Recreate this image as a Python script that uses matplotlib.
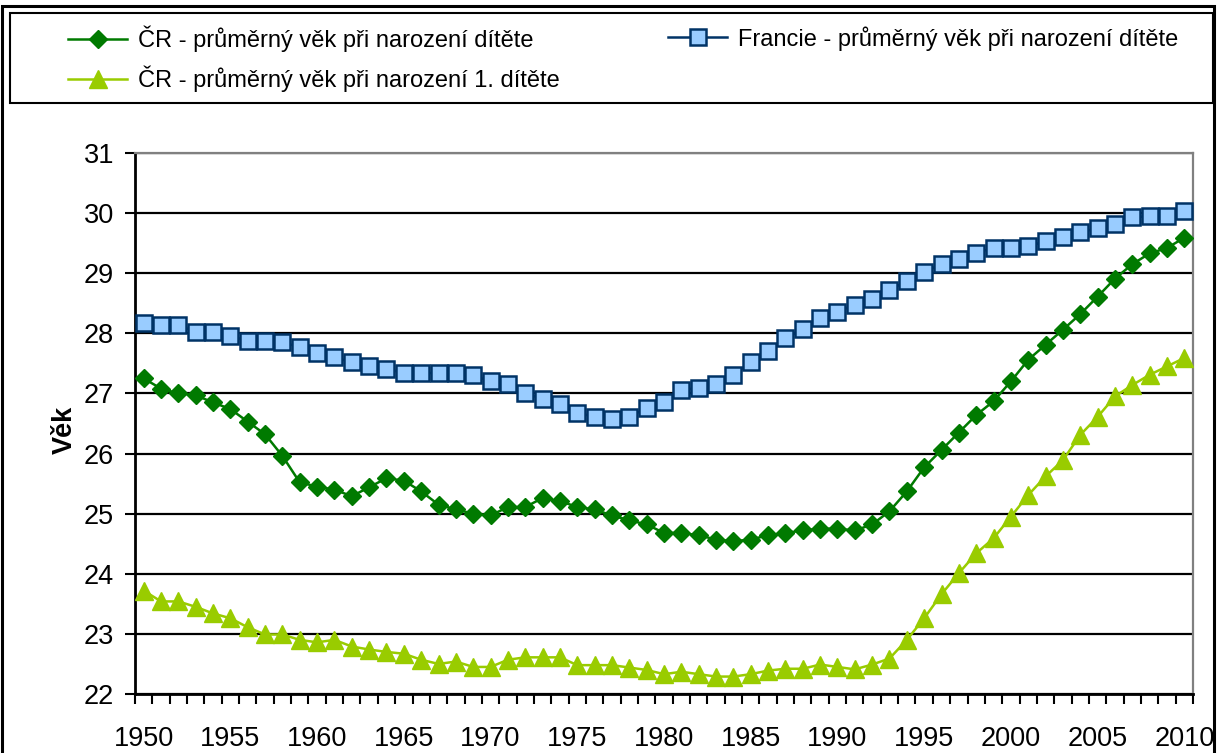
import matplotlib
matplotlib.use("Agg")
import matplotlib.pyplot as plt
from matplotlib.lines import Line2D
from matplotlib.patches import Rectangle
import numpy as np

plt.rcParams['font.family'] = ['Liberation Sans', 'DejaVu Sans']

years = list(range(1950, 2011))

cr_all = [27.25, 27.08, 27.00, 26.97, 26.85, 26.74, 26.53, 26.32, 25.96, 25.52,
          25.45, 25.40, 25.29, 25.44, 25.59, 25.55, 25.37, 25.15, 25.07, 25.00,
          24.97, 25.11, 25.11, 25.26, 25.21, 25.11, 25.07, 24.97, 24.89, 24.82,
          24.68, 24.68, 24.64, 24.57, 24.54, 24.57, 24.64, 24.68, 24.72, 24.75,
          24.75, 24.72, 24.82, 25.04, 25.37, 25.77, 26.06, 26.35, 26.64, 26.87,
          27.20, 27.56, 27.81, 28.06, 28.32, 28.61, 28.91, 29.15, 29.33, 29.42,
          29.59]

france = [28.18, 28.14, 28.14, 28.02, 28.02, 27.95, 27.88, 27.88, 27.85, 27.77,
          27.67, 27.60, 27.52, 27.45, 27.41, 27.34, 27.34, 27.34, 27.34, 27.30,
          27.20, 27.15, 27.01, 26.90, 26.83, 26.68, 26.61, 26.58, 26.61, 26.76,
          26.86, 27.06, 27.09, 27.15, 27.31, 27.52, 27.71, 27.92, 28.07, 28.25,
          28.36, 28.47, 28.57, 28.72, 28.87, 29.02, 29.15, 29.23, 29.34, 29.42,
          29.42, 29.45, 29.53, 29.60, 29.68, 29.75, 29.82, 29.93, 29.95, 29.95,
          30.04]

cr_first = [23.72, 23.54, 23.54, 23.45, 23.34, 23.26, 23.11, 22.99, 22.99, 22.90,
            22.86, 22.90, 22.79, 22.74, 22.70, 22.67, 22.57, 22.50, 22.54, 22.45,
            22.45, 22.57, 22.61, 22.61, 22.61, 22.48, 22.48, 22.48, 22.44, 22.40,
            22.33, 22.37, 22.33, 22.29, 22.29, 22.33, 22.39, 22.42, 22.42, 22.49,
            22.45, 22.41, 22.49, 22.59, 22.90, 23.26, 23.66, 24.01, 24.34, 24.59,
            24.95, 25.31, 25.62, 25.89, 26.31, 26.61, 26.95, 27.14, 27.31, 27.45,
            27.59]

label_cr_all = "ČR - průměrný věk při narození dítěte"
label_fr = "Francie - průměrný věk při narození dítěte"
label_cr_first = "ČR - průměrný věk při narození 1. dítěte"
y_label = "Věk"
x_ticks = list(range(1950, 2011, 5))
y_ticks = list(range(22, 32))

W, H = 1217, 753
fig = plt.figure(figsize=(W / 100, H / 100), dpi=100)
fig.patch.set_facecolor('white')

# outer chart border
fig.add_artist(Rectangle((2 / W, -0.05), (1214 - 2) / W, 1.05 - 6 / H,
                         transform=fig.transFigure, fill=False,
                         edgecolor='black', linewidth=2.2))

ax = fig.add_axes([135 / W, 1 - 694 / H, (1193 - 135) / W, (694 - 153) / H])

c_green = '#007A00'
c_lime = '#99CC00'
c_blue_edge = '#003366'
c_blue_fill = '#99CCFF'

ms_d, ms_s, ms_t = 9.5, 11.5, 12.5

ax.plot(years, cr_first, color=c_lime, linewidth=1.8, marker='^',
        markersize=ms_t, markerfacecolor=c_lime, markeredgecolor=c_lime, zorder=3)
ax.plot(years, cr_all, color=c_green, linewidth=1.8, marker='D',
        markersize=ms_d, markerfacecolor=c_green, markeredgecolor=c_green, zorder=4)
ax.plot(years, france, color=c_blue_edge, linewidth=1.8, marker='s',
        markersize=ms_s, markerfacecolor=c_blue_fill, markeredgecolor=c_blue_edge,
        markeredgewidth=1.8, zorder=5)

ax.set_xlim(1949.5, 2010.5)
ax.set_ylim(22, 31)

ax.set_yticks(y_ticks)
ax.set_yticklabels([str(v) for v in y_ticks], fontsize=19.5)
ax.tick_params(axis='y', direction='out', length=7, width=1.5, pad=8, color='black')

ax.set_xticks(x_ticks)
ax.set_xticklabels([str(v) for v in x_ticks], fontsize=19.5)
ax.tick_params(axis='x', which='major', length=0, pad=23)
ax.set_xticks(np.arange(1949.5, 2011, 1.0), minor=True)
ax.tick_params(axis='x', which='minor', direction='out', length=7, width=1.5, color='black')

ax.yaxis.grid(True, color='black', linewidth=1.6)
ax.set_axisbelow(True)

for s in ['left', 'bottom']:
    ax.spines[s].set_color('black')
    ax.spines[s].set_linewidth(2)
for s in ['top', 'right']:
    ax.spines[s].set_color('#808080')
    ax.spines[s].set_linewidth(1.6)

fig.text(65 / W, 1 - 430 / H, y_label, rotation=90, fontsize=19.5, fontweight='bold',
         ha='center', va='center')

# legend box
fig.add_artist(Rectangle((10 / W, 1 - 103 / H), (1213 - 10) / W, (103 - 13) / H,
                         transform=fig.transFigure, fill=False,
                         edgecolor='black', linewidth=1.5))

h_all = Line2D([], [], color=c_green, linewidth=1.8, marker='D', markersize=ms_d,
               markerfacecolor=c_green, markeredgecolor=c_green)
h_fr = Line2D([], [], color=c_blue_edge, linewidth=1.8, marker='s', markersize=ms_s,
              markerfacecolor=c_blue_fill, markeredgecolor=c_blue_edge, markeredgewidth=1.8)
h_first = Line2D([], [], color=c_lime, linewidth=1.8, marker='^', markersize=ms_t,
                 markerfacecolor=c_lime, markeredgecolor=c_lime)

leg_kw = dict(frameon=False, fontsize=17, handlelength=2.5, handletextpad=0.45,
              labelspacing=0.55, borderpad=0, borderaxespad=0, loc='upper left')
leg1 = fig.legend([h_all, h_first], [label_cr_all, label_cr_first],
                  bbox_to_anchor=(68 / W, 1 - 26 / H), **leg_kw)
leg2 = fig.legend([h_fr], [label_fr], bbox_to_anchor=(668 / W, 1 - 26 / H), **leg_kw)

fig.savefig('out.png', dpi=100, facecolor='white')
